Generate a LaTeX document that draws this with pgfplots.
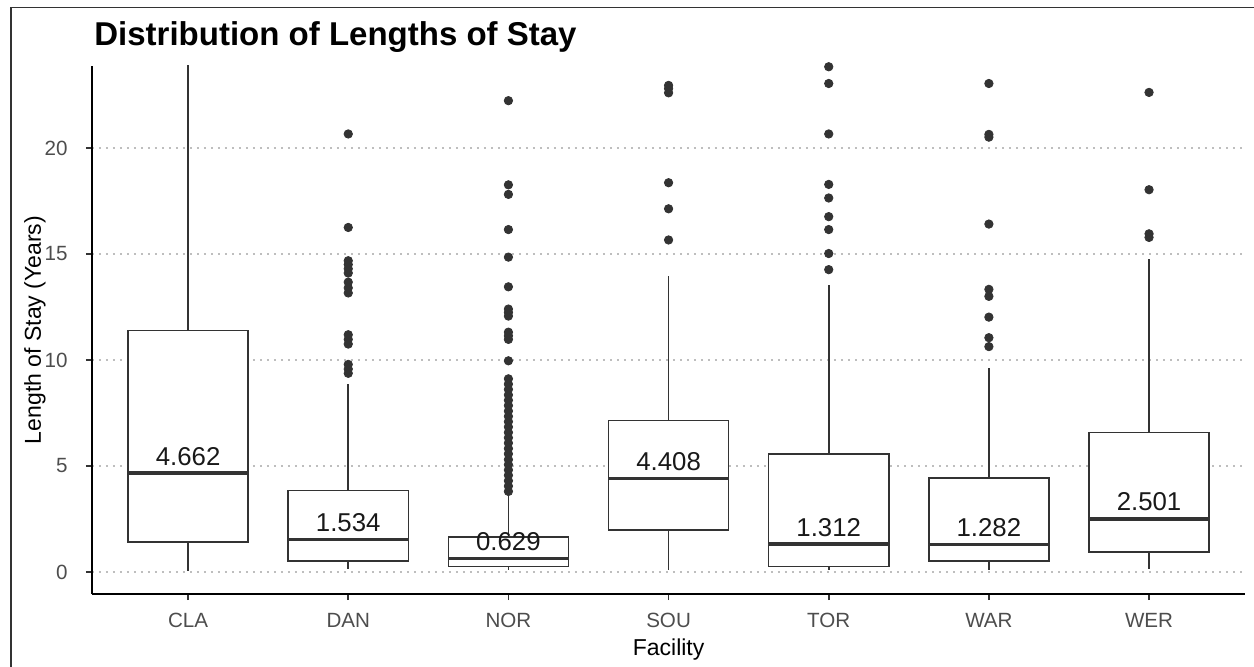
\documentclass[border=0pt]{standalone}
\usepackage{pgfplots}
\pgfplotsset{compat=1.18}
\usepgfplotslibrary{statistics}
\usepackage{fontspec}
\setmainfont{Liberation Sans}
\definecolor{gray20}{HTML}{333333}
\definecolor{gray30}{HTML}{4D4D4D}
\definecolor{gridc}{HTML}{BEBEBE}
\begin{document}
\begin{tikzpicture}
\useasboundingbox (-46pt,-36pt) rectangle (581pt,297pt);
\draw[black!80, line width=0.9pt] (-40.5pt,-40pt) -- (-40.5pt,293.25pt) -- (585pt,293.25pt);
\begin{axis}[
  at={(0,0)}, anchor=south west,
  x=80.08pt, y=10.6pt,
  xmin=-0.6, xmax=6.6, ymin=-1.04, ymax=23.87,
  axis lines*=left,
  axis line style={-, black, line width=0.8pt},
  tick style={gray20, line width=0.8pt},
  tick align=outside, major tick length=3pt,
  xtick={0,1,2,3,4,5,6},
  xticklabels={CLA,DAN,NOR,SOU,TOR,WAR,WER},
  ytick={0,5,10,15,20},
  /pgf/number format/assume math mode=true,
  ticklabel style={font=\fontsize{10.3pt}{12pt}\selectfont, text=gray30, inner sep=0pt},
  yticklabel style={anchor=east, xshift=-9pt},
  xticklabel style={anchor=base, yshift=-13.5pt},
  ymajorgrids=true,
  major grid style={gridc, line width=0.8pt, dash pattern=on 0.8pt off 2.7pt},
  boxplot/draw direction=y,
  boxplot/box extend=0.75,
  boxplot/whisker extend=0,
  boxplot/every median/.style={line width=1.7pt},
]
\addplot[draw=gray20, fill=white, line width=0.8pt, boxplot prepared={draw position=0, lower whisker=0.03, lower quartile=1.40, median=4.662, upper quartile=11.39, upper whisker=26}] coordinates {};
\addplot[draw=gray20, fill=white, line width=0.8pt, boxplot prepared={draw position=1, lower whisker=0.12, lower quartile=0.51, median=1.534, upper quartile=3.85, upper whisker=8.86}] coordinates {};
\addplot[draw=gray20, fill=white, line width=0.8pt, boxplot prepared={draw position=2, lower whisker=0.10, lower quartile=0.25, median=0.629, upper quartile=1.65, upper whisker=3.63}] coordinates {};
\addplot[draw=gray20, fill=white, line width=0.8pt, boxplot prepared={draw position=3, lower whisker=0.10, lower quartile=1.99, median=4.408, upper quartile=7.14, upper whisker=13.97}] coordinates {};
\addplot[draw=gray20, fill=white, line width=0.8pt, boxplot prepared={draw position=4, lower whisker=0.10, lower quartile=0.25, median=1.312, upper quartile=5.57, upper whisker=13.55}] coordinates {};
\addplot[draw=gray20, fill=white, line width=0.8pt, boxplot prepared={draw position=5, lower whisker=0.10, lower quartile=0.51, median=1.282, upper quartile=4.44, upper whisker=9.62}] coordinates {};
\addplot[draw=gray20, fill=white, line width=0.8pt, boxplot prepared={draw position=6, lower whisker=0.12, lower quartile=0.93, median=2.501, upper quartile=6.57, upper whisker=14.77}] coordinates {};
% outliers
\addplot[only marks, mark=*, mark size=2.1pt, gray20, mark options={draw=gray20, fill=gray20}] coordinates {
(1,20.66) (1,16.25) (1,14.68) (1,14.5) (1,14.3) (1,14.1) (1,13.67) (1,13.4) (1,13.16) (1,11.19) (1,10.97) (1,10.75) (1,9.79) (1,9.57) (1,9.37)
(2,22.23) (2,18.26) (2,17.81) (2,16.15) (2,14.85) (2,13.45) (2,12.4) (2,12.24) (2,12.07) (2,11.31) (2,11.14) (2,10.97) (2,9.96) (2,9.11) (2,8.86) (2,8.61) (2,8.35) (2,8.10) (2,7.85) (2,7.59) (2,7.34) (2,7.09) (2,6.84) (2,6.58) (2,6.33) (2,6.08) (2,5.82) (2,5.57) (2,5.30) (2,5.06) (2,4.81) (2,4.56) (2,4.30) (2,4.05) (2,3.80)
(3,22.95) (3,22.8) (3,22.6) (3,18.36) (3,17.13) (3,15.66)
(4,23.83) (4,23.04) (4,20.66) (4,18.28) (4,17.64) (4,16.76) (4,16.15) (4,15.02) (4,14.26)
(5,23.04) (5,20.64) (5,20.51) (5,16.41) (5,13.33) (5,13.0) (5,12.02) (5,11.05) (5,10.63)
(6,22.62) (6,18.03) (6,15.95) (6,15.78)
};
\begin{scope}[every node/.style={anchor=base, yshift=4pt, inner sep=0pt, font=\fontsize{12.9pt}{15pt}\selectfont, text=black!90}]
\node at (axis cs:0,4.662) {4.662};
\node at (axis cs:1,1.534) {1.534};
\node at (axis cs:2,0.629) {0.629};
\node at (axis cs:3,4.408) {4.408};
\node at (axis cs:4,1.312) {1.312};
\node at (axis cs:5,1.282) {1.282};
\node at (axis cs:6,2.501) {2.501};
\end{scope}
\end{axis}
\node[anchor=base west, inner sep=0pt, font=\bfseries\fontsize{16.5pt}{19pt}\selectfont] at (1pt,274pt) {Distribution of Lengths of Stay};
\node[anchor=base, inner sep=0pt, font=\fontsize{11.5pt}{14pt}\selectfont] at (288.3pt,-30.5pt) {Facility};
\node[anchor=base, rotate=90, inner sep=0pt, font=\fontsize{11.5pt}{14pt}\selectfont] at (-25.5pt,132pt) {Length of Stay (Years)};
\end{tikzpicture}
\end{document}
